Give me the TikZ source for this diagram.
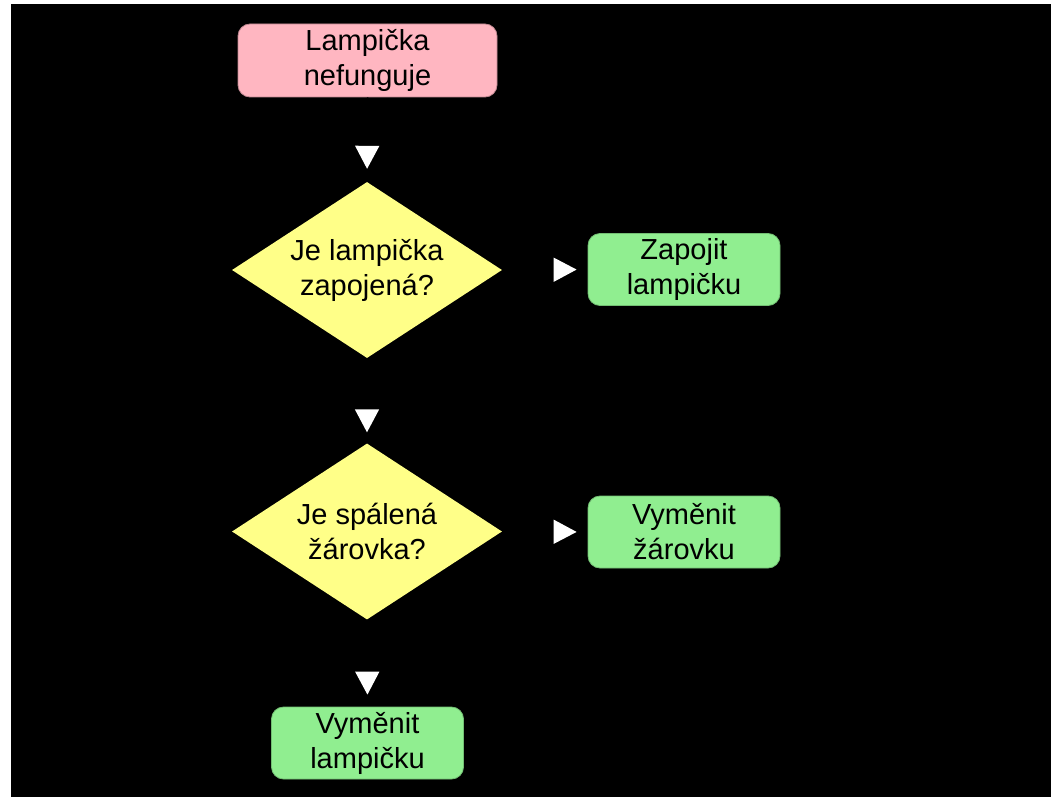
\documentclass[tikz,border=0pt]{standalone}
\usepackage{fontspec}
\setmainfont{Liberation Sans}
\usetikzlibrary{shapes.geometric,arrows.meta}

\definecolor{startpink}{RGB}{255,182,193}
\definecolor{actgreen}{RGB}{144,238,144}
\definecolor{askyellow}{RGB}{255,255,136}

\tikzset{
  label font/.style={font=\fontsize{29}{35}\selectfont, text=black, align=center},
  startbox/.style={label font, rectangle, rounded corners=12pt, fill=startpink,
    draw=startpink!75!black, line width=0.8pt, inner sep=0pt,
    minimum width=259pt, minimum height=73pt},
  actbox/.style={label font, rectangle, rounded corners=12pt, fill=actgreen,
    draw=actgreen!80!black, line width=0.8pt, inner sep=0pt,
    minimum width=192pt, minimum height=72pt},
  askbox/.style={label font, diamond, aspect=1.534, fill=askyellow, draw=none,
    inner sep=0pt, minimum width=270pt, minimum height=176pt},
  flow/.style={draw=black, line width=1.5pt,
    -{Triangle[width=24pt, length=23pt, white]}}
}

\begin{document}
\begin{tikzpicture}[x=1pt, y=-1pt]
  % canvas
  \fill[white] (0,0) rectangle (1051,797);
  \fill[black] (11,4) rectangle (1051,797);
  \useasboundingbox (0,0) rectangle (1051,797);

  % boxes
  \node[startbox] (start) at (367.5,60.5) {Lampička\\nefunguje};
  \node[askbox]   (plugged) at (367,270) {Je lampička\\zapojená?};
  \node[actbox]   (plugin) at (684,269.5) {Zapojit\\lampičku};
  \node[askbox]   (bulb) at (367,531.5) {Je spálená\\žárovka?};
  \node[actbox]   (newbulb) at (684,532) {Vyměnit\\žárovku};
  \node[actbox]   (newlamp) at (367.5,743) {Vyměnit\\lampičku};

  % connectors
  \draw[flow, shorten >=13pt] (start.south) -- (plugged.north);
  \draw[flow, shorten >=11pt] (plugged.east) -- (plugin.west);
  \draw[flow, shorten >=11pt] (plugged.south) -- (bulb.north);
  \draw[flow, shorten >=11pt] (bulb.east) -- (newbulb.west);
  \draw[flow, shorten >=12pt] (bulb.south) -- (newlamp.north);
\end{tikzpicture}
\end{document}
